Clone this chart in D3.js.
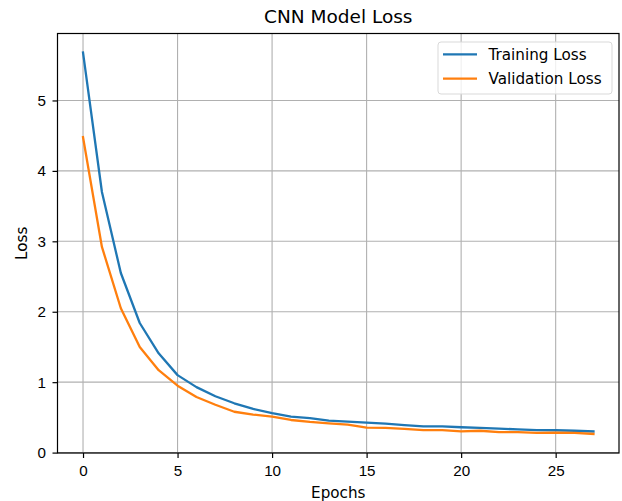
<!DOCTYPE html>
<html lang="en">
<head>
  <meta charset="UTF-8">
  <title>CNN Model Loss</title>
  <script src="https://d3js.org/d3.v7.min.js"></script>
  <style>
    body { margin: 0; background: #fff; }
    svg { font-family: "DejaVu Sans", sans-serif; }
    .tick text { font-size: 15.2px; fill: #000; }
    .grid line { stroke: #b0b0b0; stroke-width: 1.1px; }
  </style>
</head>
<body>
  <svg width="622" height="501"></svg>
  <script>
    const epochs = d3.range(0, 28);
    const trainingLoss = [5.68, 3.70, 2.55, 1.84, 1.41, 1.10, 0.93, 0.80, 0.70, 0.62,
                          0.56, 0.51, 0.49, 0.455, 0.44, 0.425, 0.41, 0.39, 0.373, 0.373,
                          0.36, 0.35, 0.34, 0.33, 0.32, 0.317, 0.31, 0.30];
    const validationLoss = [4.48, 2.92, 2.05, 1.50, 1.17, 0.95, 0.79, 0.68, 0.58, 0.54,
                            0.51, 0.463, 0.435, 0.416, 0.397, 0.355, 0.35, 0.336, 0.32, 0.32,
                            0.30, 0.31, 0.29, 0.29, 0.28, 0.283, 0.28, 0.265];
    const xTicks = [0, 5, 10, 15, 20, 25];
    const yTicks = [0, 1, 2, 3, 4, 5];
    const series = [
      { name: "Training Loss", values: trainingLoss, color: "#1f77b4" },
      { name: "Validation Loss", values: validationLoss, color: "#ff7f0e" }
    ];

    const svg = d3.select("svg");
    const margin = { left: 57.5, right: 3, top: 33.5, bottom: 48 };
    const width = 622, height = 501;

    // matplotlib style 5% margins around data
    const xExt = d3.extent(epochs), yExt = d3.extent(trainingLoss.concat(validationLoss));
    const xPad = (xExt[1] - xExt[0]) * 0.05, yPad = (yExt[1] - yExt[0]) * 0.05;

    const x = d3.scaleLinear()
      .domain([xExt[0] - xPad, xExt[1] + xPad])
      .range([margin.left, width - margin.right]);
    const y = d3.scaleLinear()
      .domain([yExt[0] - yPad, yExt[1] + yPad])
      .range([height - margin.bottom, margin.top]);

    // grid
    svg.append("g").attr("class", "grid")
      .selectAll("line.v").data(xTicks).join("line")
      .attr("x1", d => x(d)).attr("x2", d => x(d))
      .attr("y1", margin.top).attr("y2", height - margin.bottom);
    svg.append("g").attr("class", "grid")
      .selectAll("line.h").data(yTicks).join("line")
      .attr("x1", margin.left).attr("x2", width - margin.right)
      .attr("y1", d => y(d)).attr("y2", d => y(d));

    // lines
    const line = d3.line().x((d, i) => x(epochs[i])).y(d => y(d));
    svg.append("g").selectAll("path").data(series).join("path")
      .attr("d", d => line(d.values))
      .attr("fill", "none")
      .attr("stroke", d => d.color)
      .attr("stroke-width", 2.3)
      .attr("stroke-linejoin", "round")
      .attr("stroke-linecap", "square");

    // axes
    const xAxis = svg.append("g")
      .attr("transform", `translate(0,${height - margin.bottom})`)
      .call(d3.axisBottom(x).tickValues(xTicks).tickFormat(d3.format("d")).tickSize(5).tickPadding(7.5));
    const yAxis = svg.append("g")
      .attr("transform", `translate(${margin.left},0)`)
      .call(d3.axisLeft(y).tickValues(yTicks).tickFormat(d3.format("d")).tickSize(5).tickPadding(6.5));
    [xAxis, yAxis].forEach(a => {
      a.select(".domain").remove();
      a.selectAll(".tick line").attr("stroke", "#000").attr("stroke-width", 1.2);
    });

    // frame
    svg.append("rect")
      .attr("x", margin.left).attr("y", margin.top)
      .attr("width", width - margin.right - margin.left)
      .attr("height", height - margin.bottom - margin.top)
      .attr("fill", "none").attr("stroke", "#000").attr("stroke-width", 1.2);

    // title and axis labels
    svg.append("text")
      .attr("x", (margin.left + width - margin.right) / 2).attr("y", 23.3)
      .attr("text-anchor", "middle").attr("font-size", 18.5)
      .text("CNN Model Loss");
    svg.append("text")
      .attr("x", (margin.left + width - margin.right) / 2).attr("y", 497.5)
      .attr("text-anchor", "middle").attr("font-size", 15.2)
      .text("Epochs");
    svg.append("text")
      .attr("transform", `translate(26.7,${(margin.top + height - margin.bottom) / 2}) rotate(-90)`)
      .attr("text-anchor", "middle").attr("font-size", 15.2)
      .text("Loss");

    // legend
    const legend = svg.append("g").attr("transform", "translate(438,42)");
    legend.append("rect")
      .attr("width", 174).attr("height", 52).attr("rx", 3)
      .attr("fill", "#fff").attr("fill-opacity", 0.8)
      .attr("stroke", "#d9d9d9").attr("stroke-width", 1);
    const item = legend.selectAll("g.item").data(series).join("g")
      .attr("transform", (d, i) => `translate(0,${12.3 + i * 24.4})`);
    item.append("line")
      .attr("x1", 5).attr("x2", 39)
      .attr("stroke", d => d.color).attr("stroke-width", 2.3);
    item.append("text")
      .attr("x", 50.5).attr("dy", "0.35em").attr("font-size", 15.2)
      .text(d => d.name);
  </script>
</body>
</html>
